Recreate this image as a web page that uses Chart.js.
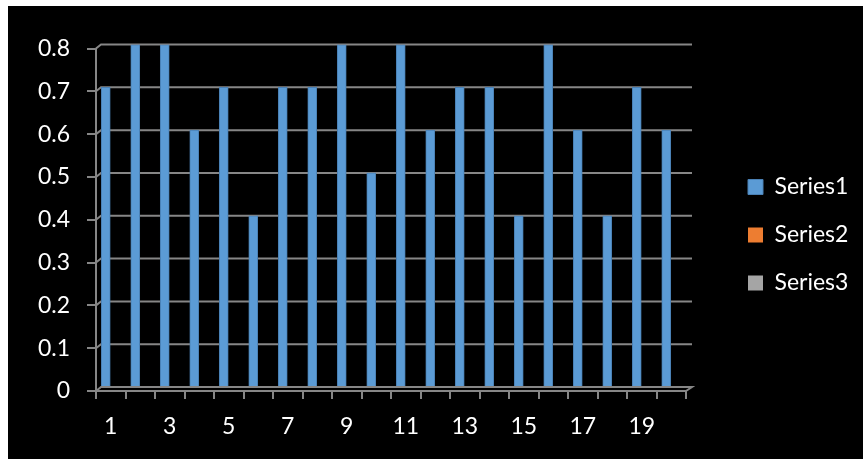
<!DOCTYPE html>
<html>
<head>
<meta charset="utf-8">
<script src="https://cdn.jsdelivr.net/npm/chart.js@4.4.1/dist/chart.umd.min.js"></script>
<style>
  html, body { margin: 0; padding: 0; background: #fff; width: 863px; height: 459px; overflow: hidden; }
  #frame { position: absolute; left: 8px; top: 6px; width: 855px; height: 453px; background: #000; }
</style>
</head>
<body>
<div id="frame"><canvas id="chart" width="855" height="453"></canvas></div>
<script>
// Categories and series values
const categories = ['1','2','3','4','5','6','7','8','9','10','11','12','13','14','15','16','17','18','19','20'];
const series1 = [0.7, 0.8, 0.8, 0.6, 0.7, 0.4, 0.7, 0.7, 0.8, 0.5, 0.8, 0.6, 0.7, 0.7, 0.4, 0.8, 0.6, 0.4, 0.7, 0.6];
const series2 = [];
const series3 = [];
const seriesNames = ['Series1', 'Series2', 'Series3'];
const yTickLabels = ['0', '0.1', '0.2', '0.3', '0.4', '0.5', '0.6', '0.7', '0.8'];

const GRID = '#868686';
const FONT = 'Lato';
const DEPTH_X = 5;         // back wall offset to the right
const DEPTH_Y = -4;        // back wall offset upward
const BAR_SHIFT_X = -5;    // columns sit slightly left of the front category centre
const LEGEND_WIDTH = 177;
const LEGEND_SHIFT_X = 37;
const LEGEND_SHIFT_Y = -18.75;

// Pseudo-3D frame: back-wall gridlines, floor edge, shifted columns, legend placement
const depthFrame = {
  id: 'depthFrame',
  afterInit(chart) {
    const lg = chart.legend;
    const fit = lg.fit.bind(lg);
    lg.fit = function () { fit(); this.width = LEGEND_WIDTH; };
  },
  afterLayout(chart) {
    const lg = chart.legend;
    lg.left += LEGEND_SHIFT_X;
    lg.right += LEGEND_SHIFT_X;
    lg.top += LEGEND_SHIFT_Y;
    lg.bottom += LEGEND_SHIFT_Y;
  },
  beforeDraw(chart) {
    const ctx = chart.ctx;
    ctx.save();
    ctx.fillStyle = '#000';
    ctx.fillRect(0, 0, chart.width, chart.height);
    ctx.restore();
  },
  beforeDatasetsDraw(chart) {
    const { ctx, chartArea: a, scales: { y } } = chart;
    ctx.save();
    ctx.strokeStyle = GRID;
    ctx.lineWidth = 2;
    y.ticks.forEach(t => {
      const py = y.getPixelForValue(t.value);
      ctx.beginPath();
      ctx.moveTo(a.left, py);
      ctx.lineTo(a.left + DEPTH_X, py + DEPTH_Y);
      ctx.lineTo(a.right + DEPTH_X + 1, py + DEPTH_Y);
      if (t.value === 0) ctx.lineTo(a.right, py);
      ctx.stroke();
    });
    ctx.restore();
    ctx.save();
    ctx.translate(BAR_SHIFT_X, DEPTH_Y);
  },
  afterDatasetsDraw(chart) {
    chart.ctx.restore();
  }
};

new Chart(document.getElementById('chart'), {
  type: 'bar',
  data: {
    labels: categories,
    datasets: [
      { label: seriesNames[0], data: series1, backgroundColor: '#5B9BD5', borderColor: '#4A80B4', borderWidth: 1 },
      { label: seriesNames[1], data: series2, backgroundColor: '#ED7D31' },
      { label: seriesNames[2], data: series3, backgroundColor: '#A5A5A5' }
    ]
  },
  options: {
    responsive: false,
    animation: false,
    devicePixelRatio: 1,
    grouped: false,
    barThickness: 9,
    layout: { padding: { top: 42.5, bottom: 0, left: 0, right: 0 } },
    plugins: {
      tooltip: { enabled: false },
      legend: {
        position: 'right',
        labels: {
          color: '#fff',
          font: { family: FONT, size: 23 },
          boxWidth: 15,
          boxHeight: 15,
          padding: 25
        }
      }
    },
    scales: {
      x: {
        afterFit(s) { s.height = 68; },
        grid: { display: true, drawOnChartArea: false, color: GRID, lineWidth: 2, tickLength: 8, offset: true },
        border: { display: true, color: GRID, width: 2 },
        ticks: {
          autoSkip: false,
          maxRotation: 0,
          color: '#fff',
          font: { family: FONT, size: 23 },
          padding: 14,
          callback: (v, i) => (i % 2 === 0 ? categories[i] : '')
        }
      },
      y: {
        min: 0,
        max: 0.8,
        afterFit(s) { s.width = 88; },
        grid: { display: true, drawOnChartArea: false, color: GRID, lineWidth: 2, tickLength: 9 },
        border: { display: true, color: GRID, width: 2 },
        ticks: {
          stepSize: 0.1,
          color: '#fff',
          font: { family: FONT, size: 23 },
          padding: 17,
          callback: (v, i) => yTickLabels[i]
        }
      }
    }
  },
  plugins: [depthFrame]
});
</script>
</body>
</html>
